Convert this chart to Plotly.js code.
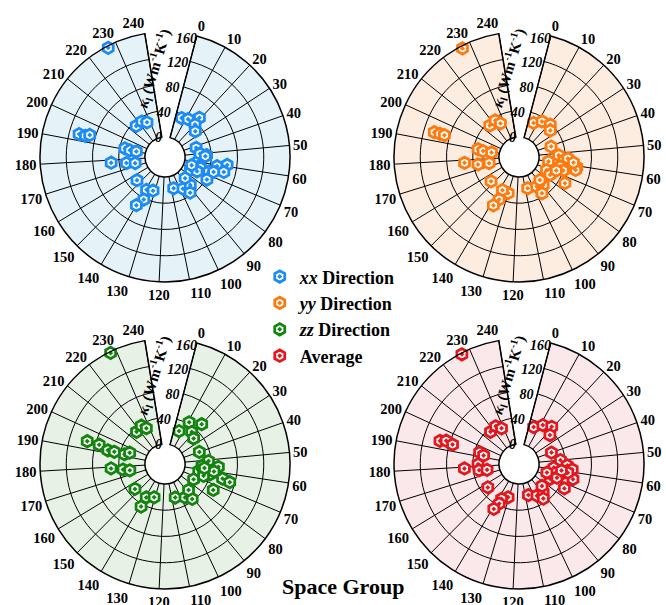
<!DOCTYPE html>
<html><head><meta charset="utf-8">
<script src="https://cdn.plot.ly/plotly-3.0.1.min.js"></script>
<style>html,body{margin:0;padding:0;background:#fff}#chart{width:666px;height:605px}</style>
</head><body><div id="chart"></div>
<script>
// ---- data ----
const angleTicks = [0,10,20,30,40,50,60,70,80,90,100,110,120,130,140,150,160,170,180,190,200,210,220,230,240];
const radialTicks = [0,40,80,120,160];
const seriesNames = ['<i>xx</i> Direction', '<i>yy</i> Direction', '<i>zz</i> Direction', 'Average'];
const seriesColors = ['#1c8cf5', '#ff7a0e', '#13850f', '#e3171e'];
const panelBg = ['#e5f2f7', '#fdece0', '#e8f1e6', '#fbe8ea'];
const radialTitle = '<i>κ</i><sub>l</sub> (Wm<sup>-1</sup>K<sup>-1</sup>)';

const sgXX = [6,12,19,20,25, 42,59,52,66,67,74,73,61,59,64,50,53,66,71,66, 107,97,88,87,93, 154,139,132,137,140, 191,190,190,178,176,174, 193,193,194, 216,223,227, 227];
const kXX  = [34,37,49,37,30, 19,21,33,26,40,42,13,50,65,62,23,31,47,23,12, 19,25,27,14,36, 25,27,24,42,55, 32,24,14,52,29,16, 105,95,89, 34,34,29, 157];

const sgYY = [6,13,21,25, 41,52,60,57,59,61,63,63,75,72,75,55,58,66,68, 107,96,89,95,88, 130,137,136,138, 190,189,189,178,175,174,153, 194,194,194, 216,223,226, 227];
const kYY  = [26,34,38,32, 21,30,15,38,48,59,58,34,50,16,24,44,53,40,30, 19,22,26,35,17, 27,26,41,53, 33,25,12,53,33,16,26, 104,95,88, 35,36,28, 156];

const sgZZ = [6,11,20,18,24, 40,51,62,63,56,64,65,74,74,56,66,60,58, 106,96,91,88, 139,131,139, 179,177,175,154, 194,194,192,192,192,195, 217,224,227, 228];
const kZZ  = [24,43,52,33,28, 25,36,22,40,51,60,72,53,19,26,31,45,30, 23,29,37,23, 28,23,44, 52,34,24,29, 93,74,59,49,33,26, 35,38,31, 158];

const sgAVG = [5,12,19,23, 40,58,62,50,55,58,65,74,72,66,68,61,60, 106,97,89,85,93, 131,137,137,139, 194,192,182,179,176,175,156, 194,195,194, 217,224,228, 227];
const kAVG  = [30,39,45,34, 22,23,38,33,43,51,55,48,22,14,31,45,35, 19,25,26,18,34, 23,29,37,48, 32,25,32,53,31,19,29, 95,86,75, 35,37,30, 158];

const sgSets = [sgXX, sgYY, sgZZ, sgAVG];
const kSets  = [kXX, kYY, kZZ, kAVG];

// ---- mapping of space-group number onto the 336 degree sector ----
const DEG_PER_SG = 336 / 240;
const toTheta = arr => arr.map(v => v * DEG_PER_SG);
const ROT = 75.3;
const RAD_ANGLE = 70.5;

const SERIF = 'Liberation Serif, Times New Roman, serif';
const polarKeys = ['polar', 'polar2', 'polar3', 'polar4'];
const domX = [[0.06006, 0.43544], [0.59159, 0.96697], [0.06006, 0.43544], [0.59159, 0.96697]];
const domY = [[0.53256, 0.94579], [0.53256, 0.94579], [0.02512, 0.43835], [0.02512, 0.43835]];
const titlePos = [[0.2312, 0.8876], [0.7635, 0.8876], [0.2312, 0.3802], [0.7635, 0.3802]];

const traces = sgSets.map((sg, i) => ({
  type: 'scatterpolar',
  mode: 'markers',
  subplot: polarKeys[i],
  name: seriesNames[i],
  r: kSets[i],
  theta: toTheta(sg),
  marker: {symbol: 'hexagon-dot', size: 11.5, color: 'white',
           line: {color: seriesColors[i], width: 2.8}},
  showlegend: true,
  legendgroup: 'g' + i
}));

const annotations = [{text: 'Space Group', x: 0.515, y: 0.03, xref: 'paper', yref: 'paper',
                 xanchor: 'center', yanchor: 'middle', showarrow: false,
                 font: {family: SERIF, size: 22, weight: 'bold', color: 'black'}}];
titlePos.forEach(p => annotations.push({
  text: radialTitle, x: p[0], y: p[1], xref: 'paper', yref: 'paper',
  xanchor: 'center', yanchor: 'middle', showarrow: false, textangle: -73,
  font: {family: SERIF, size: 15, weight: 'bold', color: 'black'}
}));

const layout = {
  width: 666, height: 605,
  margin: {l: 0, r: 0, t: 0, b: 0},
  paper_bgcolor: 'white',
  font: {family: SERIF, color: 'black'},
  showlegend: true,
  legend: {x: 0.39, y: 0.573, xanchor: 'left', yanchor: 'top',
           font: {family: SERIF, size: 18, weight: 'bold', color: 'black'},
           bgcolor: 'rgba(0,0,0,0)', tracegroupgap: 3, traceorder: 'normal'},
  annotations: annotations
};

polarKeys.forEach((key, i) => {
  layout[key] = {
    domain: {x: domX[i], y: domY[i]},
    sector: [ROT - 336, ROT],
    hole: 0.16,
    bgcolor: panelBg[i],
    angularaxis: {
      rotation: ROT, direction: 'clockwise',
      tickmode: 'array', tickvals: toTheta(angleTicks), ticktext: angleTicks.map(String),
      showgrid: true, gridcolor: 'black', gridwidth: 1,
      showline: true, linecolor: 'black', linewidth: 1.5,
      ticks: '',
      tickfont: {family: SERIF, size: 14.5, weight: 'bold', color: 'black'}
    },
    radialaxis: {
      range: [0, 160], tickmode: 'array', tickvals: radialTicks,
      angle: RAD_ANGLE, side: 'counterclockwise', tickangle: RAD_ANGLE,
      showline: false, showgrid: true, gridcolor: 'black', gridwidth: 1,
      ticks: '',
      tickfont: {family: SERIF, size: 14, weight: 'bold', style: 'italic', color: 'black'}
    }
  };
});

Plotly.newPlot('chart', traces, layout, {displayModeBar: false, staticPlot: true});
</script>
</body></html>
